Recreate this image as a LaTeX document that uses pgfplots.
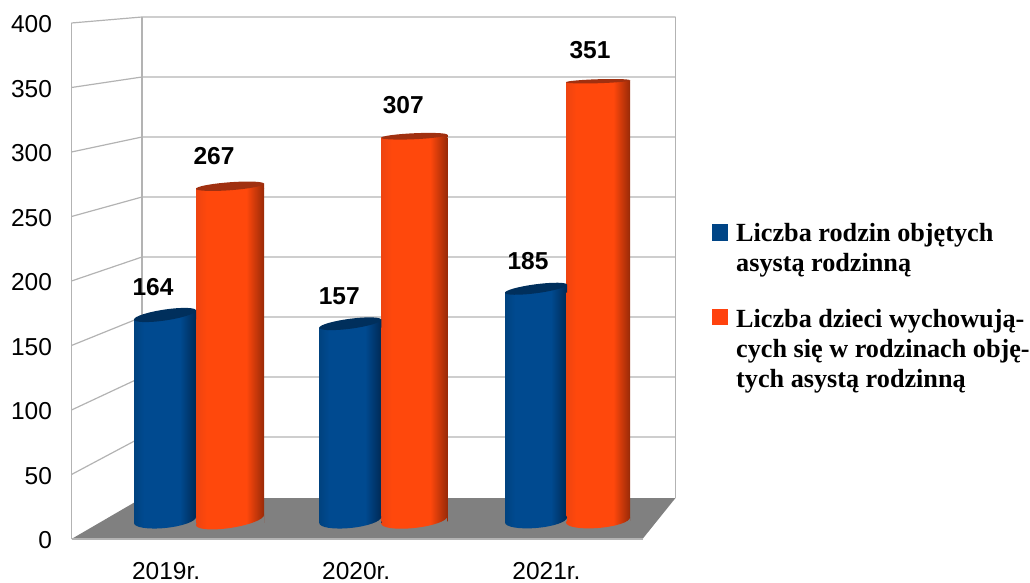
\documentclass[border=0pt]{standalone}
\usepackage{pgfplots}
\pgfplotsset{compat=1.18}
\usepackage{fontspec}
\setmainfont{Liberation Sans}
\newfontfamily\serifbold[BoldFont={Liberation Serif Bold}]{Liberation Serif}
\definecolor{gridc}{HTML}{B3B3B3}
\definecolor{floorc}{HTML}{808080}
\definecolor{bluelg}{HTML}{004586}
\definecolor{orangelg}{HTML}{FF420E}
\definecolor{bluetop}{HTML}{002F5C}
\definecolor{orangetop}{HTML}{A03010}
\definecolor{b0}{HTML}{00427F}
\definecolor{b1}{HTML}{004A90}
\definecolor{b2}{HTML}{002A55}
\definecolor{o0}{HTML}{EE4410}
\definecolor{o1}{HTML}{FF480C}
\definecolor{o2}{HTML}{982A08}
\pgfdeclarehorizontalshading{bluecyl}{100bp}{color(0bp)=(b0); color(25bp)=(b0); color(33bp)=(b1); color(62bp)=(b1); color(75bp)=(b2); color(100bp)=(b2)}
\pgfdeclarehorizontalshading{orangecyl}{100bp}{color(0bp)=(o0); color(25bp)=(o0); color(33bp)=(o1); color(62bp)=(o1); color(75bp)=(o2); color(100bp)=(o2)}
% id, half width, top tilt, top minor radius, bottom tilt, bottom minor radius, shading, top colour
\newcommand\defcyl[8]{%
  \pgfdeclareplotmark{#1top}{%
    \path[shade,shading=#7,draw=none] (-#2pt,-#3pt)--(#2pt,-#3pt)--(#2pt,#3pt)--cycle;
    \begin{pgfscope}
    \pgfpathellipse{\pgfpointorigin}{\pgfqpoint{#2pt}{#3pt}}{\pgfqpoint{0pt}{#4pt}}%
    \pgfsetfillcolor{#8}\pgfusepath{fill}%
    \end{pgfscope}
  }%
  \pgfdeclareplotmark{#1bot}{%
    \path[fill=floorc,draw=none] (-#2pt,-10pt) rectangle (0pt,-#5pt);
    \path[fill=floorc,draw=none] (0pt,-10pt) rectangle (#2pt,#5pt);
    \begin{pgfscope}
    \pgfpathellipse{\pgfpointorigin}{\pgfqpoint{#2pt}{#5pt}}{\pgfqpoint{0pt}{#6pt}}%
    \pgfshadepath{#7}{0}\pgfusepath{discard}%
    \end{pgfscope}
  }%
}
\defcyl{ba}{31}{4.5}{5.5}{3}{8}{bluecyl}{bluetop}
\defcyl{oa}{34}{2.5}{4}{5}{8}{orangecyl}{orangetop}
\defcyl{bb}{31}{4}{5}{3}{8}{bluecyl}{bluetop}
\defcyl{ob}{33}{1.5}{3}{3.5}{8}{orangecyl}{orangetop}
\defcyl{bc}{31}{4}{4.5}{2.5}{8}{bluecyl}{bluetop}
\defcyl{oc}{32}{1}{2}{2.5}{8}{orangecyl}{orangetop}
% cat, value, shift, id, shading, half-tilt, bar width
\newcommand\cyl[7]{%
  \addplot[ybar,bar width=#7pt,bar shift=#3pt,draw=none,shade,shading=#5,yshift=-#6pt] coordinates {(#1,#2)};
  \addplot[only marks,mark=#4bot,xshift=#3pt] coordinates {(#1,0)};
  \addplot[only marks,mark=#4top,xshift=#3pt] coordinates {(#1,#2)};
}
\newcommand\barlabel[4]{%
  \addplot[only marks,mark=none,nodes near coords,every node near coord/.append style={anchor=center,xshift=#3pt,yshift=#4pt,font=\fontsize{24.5}{28}\selectfont\bfseries,text=black}] coordinates {(#1,#2)};
}
\begin{document}
\begin{tikzpicture}[x=1pt,y=1pt]
\useasboundingbox (0pt,0pt) rectangle (1030pt,583pt);
% walls and floor, in picture pixels
\begin{axis}[at={(0pt,0pt)},anchor=south west,scale only axis,width=1030pt,height=583pt,
  xmin=0,xmax=1030,ymin=0,ymax=583,y dir=reverse,hide axis,clip=false]
  \addplot[draw=none,fill=floorc] coordinates {(71.5,539)(142,498)(675.5,498)(642.5,539)} --cycle;
  \addplot[gridc,line width=1.4pt] coordinates {(71.5,539)(642.5,539)};
  \addplot[gridc,line width=1.2pt] coordinates {(71.5,539)(71.5,23)};
  \addplot[gridc,line width=1.2pt] coordinates {(142,498)(142,17)};
  \addplot[gridc,line width=1.2pt] coordinates {(675.5,498)(675.5,17)};
  \addplot[gridc,line width=1.2pt] coordinates {(71.5,474.5)(142,437)(675.5,437)};
  \addplot[gridc,line width=1.2pt] coordinates {(71.5,410)(142,377)(675.5,377)};
  \addplot[gridc,line width=1.2pt] coordinates {(71.5,345.5)(142,317)(675.5,317)};
  \addplot[gridc,line width=1.2pt] coordinates {(71.5,281)(142,257)(675.5,257)};
  \addplot[gridc,line width=1.2pt] coordinates {(71.5,216.5)(142,197)(675.5,197)};
  \addplot[gridc,line width=1.2pt] coordinates {(71.5,152)(142,137)(675.5,137)};
  \addplot[gridc,line width=1.2pt] coordinates {(71.5,87.5)(142,77)(675.5,77)};
  \addplot[gridc,line width=1.2pt] coordinates {(71.5,23)(142,17)(675.5,17)};
  \fill[bluelg] (axis cs:712,224) rectangle (axis cs:728,241);
  \fill[orangelg] (axis cs:712,309) rectangle (axis cs:728,325);
  \node[anchor=west,inner sep=0pt,align=left,font=\fontsize{26.2}{30}\selectfont\serifbold\bfseries] at (axis cs:736,250.5) {Liczba rodzin objętych\\asystą rodzinną};
  \node[anchor=west,inner sep=0pt,align=left,font=\fontsize{26.2}{30}\selectfont\serifbold\bfseries] at (axis cs:736,351) {Liczba dzieci wychowują-\\cych się w rodzinach obję-\\tych asystą rodzinną};
\end{axis}
% value axis
\begin{axis}[at={(71.5pt,44pt)},anchor=south west,scale only axis,width=10pt,height=516pt,
  ymin=0,ymax=400,ytick distance=50,xmin=0,xmax=1,xtick=\empty,
  axis line style={draw=none},major tick length=0pt,
  /pgf/number format/assume math mode=true,
  y tick label style={font=\fontsize{24.5}{28}\selectfont,xshift=-16pt,yshift=-1.5pt}]
  \addplot[draw=none] coordinates {(0,0)};
\end{axis}
% cylinders
\begin{axis}[at={(0pt,63pt)},anchor=south west,scale only axis,width=1030pt,height=500pt,
  xmin=-1.0690,xmax=4.5061,ymin=0,ymax=400,clip=false,
  ytick=\empty,xtick={-0.17,0.859,1.889},xticklabels={2019r.,2020r.,2021r.},
  axis line style={draw=none},major tick length=0pt,
  /pgf/number format/assume math mode=true,
  x tick label style={font=\fontsize{24.5}{28}\selectfont,inner ysep=0pt,yshift=-41.8pt}]
  \cyl{0}{164}{-32.5}{ba}{bluecyl}{4.5}{62}
  \cyl{0}{267}{32.5}{oa}{orangecyl}{2.5}{68}
  \cyl{1}{157}{-32}{bb}{bluecyl}{4}{62}
  \cyl{1}{307}{32}{ob}{orangecyl}{1.5}{66}
  \cyl{2}{185}{-31}{bc}{bluecyl}{4}{62}
  \cyl{2}{351}{31}{oc}{orangecyl}{1}{64}
  \barlabel{0}{164}{-44.5}{28}
  \barlabel{0}{267}{16.5}{30.5}
  \barlabel{1}{157}{-43}{28}
  \barlabel{1}{307}{21}{31}
  \barlabel{2}{185}{-39}{28}
  \barlabel{2}{351}{23}{31}
\end{axis}
\end{tikzpicture}
\end{document}
